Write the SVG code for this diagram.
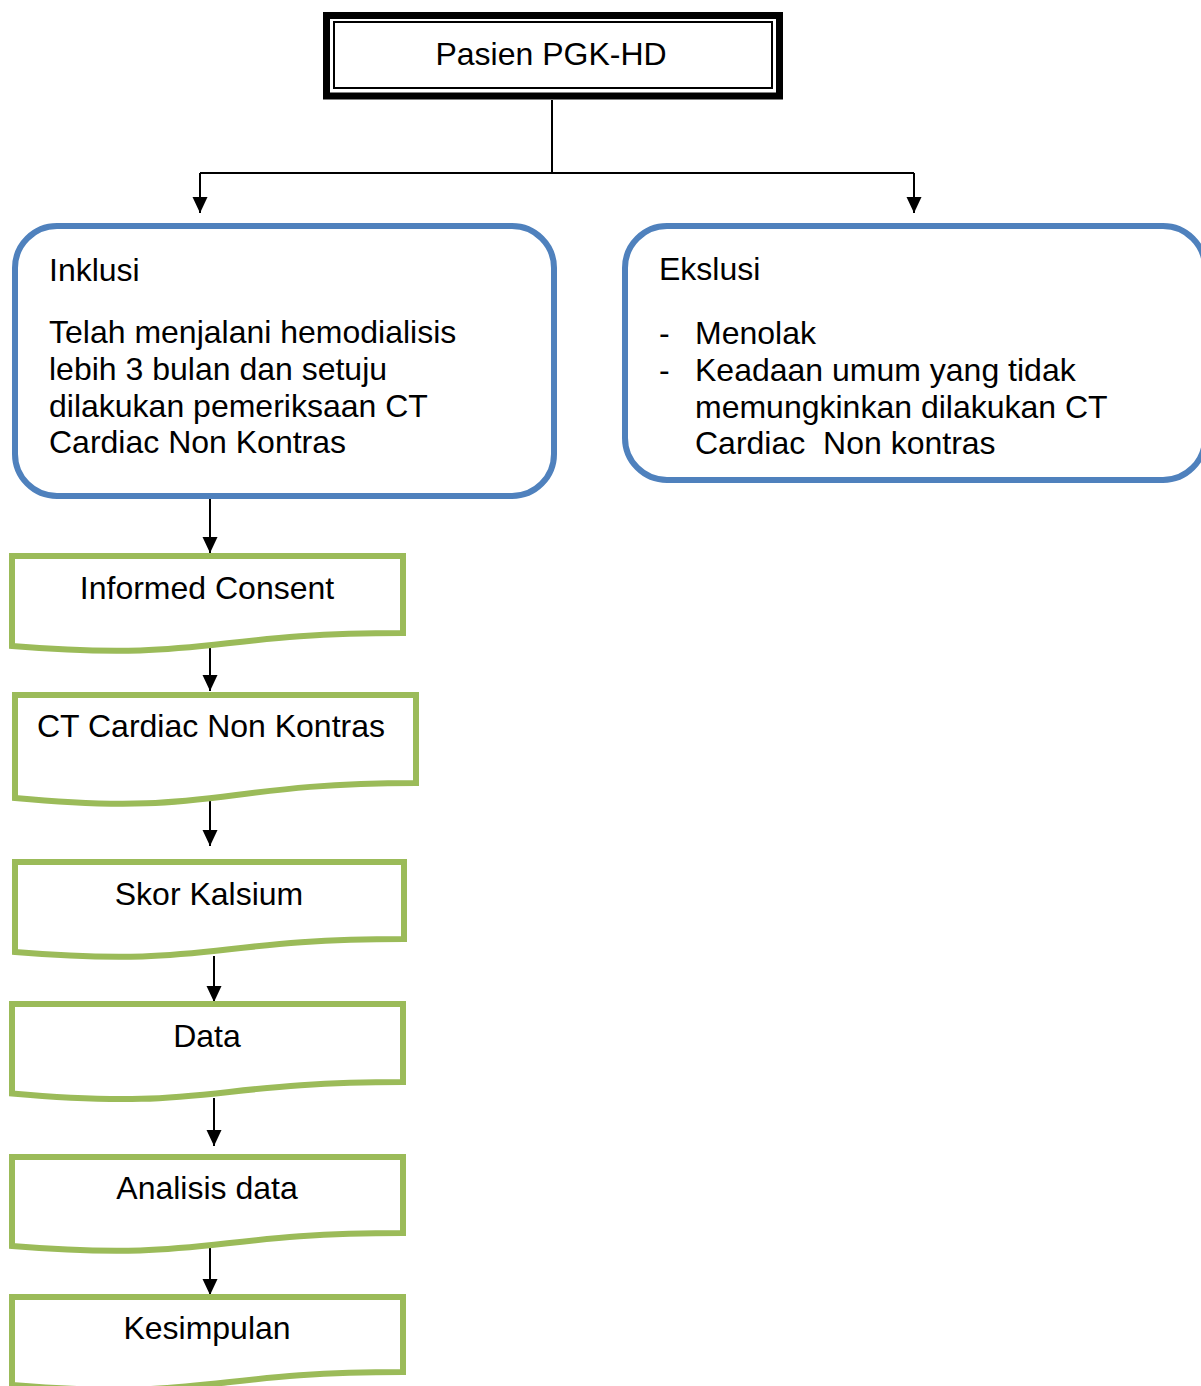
<svg xmlns="http://www.w3.org/2000/svg" width="1201" height="1386" viewBox="0 0 1201 1386">
<style>
text{font-family:"Liberation Sans",Arial,sans-serif;font-size:32px;fill:#000;white-space:pre}
.c{text-anchor:middle}
.conn{stroke:#000;stroke-width:2;fill:none}
.blue{fill:#fff;stroke:#4F81BD;stroke-width:6}
.doc{fill:#fff;stroke:#9BBB59;stroke-width:6}
</style>
<defs>
<marker id="ah" markerUnits="userSpaceOnUse" markerWidth="16" markerHeight="16" refX="16" refY="8" orient="auto">
<path d="M0,0.5 L16,8 L0,15.5 Z" fill="#000"/>
</marker>
</defs>
<rect width="1201" height="1386" fill="#fff"/>
<g id="connectors">
<path class="conn" d="M552,100 V173"/>
<path class="conn" d="M200,173 H914"/>
<path class="conn" d="M200,173 V213" marker-end="url(#ah)"/>
<path class="conn" d="M914,173 V213" marker-end="url(#ah)"/>
<path class="conn" d="M210,496 V553" marker-end="url(#ah)"/>
<path class="conn" d="M210,646 V691" marker-end="url(#ah)"/>
<path class="conn" d="M210,800 V846" marker-end="url(#ah)"/>
<path class="conn" d="M214,956 V1002" marker-end="url(#ah)"/>
<path class="conn" d="M214,1098 V1146" marker-end="url(#ah)"/>
<path class="conn" d="M210,1248 V1295" marker-end="url(#ah)"/>
</g>
<g id="pasien">
<rect x="326.5" y="15.5" width="453" height="80.5" fill="#fff" stroke="#000" stroke-width="7"/>
<rect x="334" y="22" width="438" height="66" fill="none" stroke="#000" stroke-width="2"/>
<text class="c" x="551" y="65">Pasien PGK-HD</text>
</g>
<g id="inklusi">
<rect class="blue" x="15" y="226" width="539" height="270" rx="42"/>
<text x="49" y="281">Inklusi</text>
<text x="49" y="343">Telah menjalani hemodialisis</text>
<text x="49" y="380">lebih 3 bulan dan setuju</text>
<text x="49" y="417">dilakukan pemeriksaan CT</text>
<text x="49" y="453">Cardiac Non Kontras</text>
</g>
<g id="ekslusi">
<rect class="blue" x="625" y="226" width="580" height="254" rx="42"/>
<text x="659" y="280">Ekslusi</text>
<text x="659" y="344">-</text>
<text x="695" y="344">Menolak</text>
<text x="659" y="381">-</text>
<text x="695" y="381">Keadaan umum yang tidak</text>
<text x="695" y="418">memungkinkan dilakukan CT</text>
<text x="695" y="454">Cardiac  Non kontras</text>
</g>
<g id="informed-consent">
<path class="doc" d="M12,556 H403 V633 C207.5,633 207.5,662 12,646 Z"/>
<text class="c" x="207" y="599">Informed Consent</text>
</g>
<g id="ct-cardiac">
<path class="doc" d="M15,695 H416 V783 C215.5,783 215.5,817 15,798 Z"/>
<text class="c" x="211" y="737">CT Cardiac Non Kontras</text>
</g>
<g id="skor-kalsium">
<path class="doc" d="M15,862 H404 V939 C209.5,939 209.5,968 15,952 Z"/>
<text class="c" x="209" y="905">Skor Kalsium</text>
</g>
<g id="data">
<path class="doc" d="M12,1004 H403 V1082 C207.5,1082 207.5,1111 12,1093.5 Z"/>
<text class="c" x="207" y="1047">Data</text>
</g>
<g id="analisis-data">
<path class="doc" d="M12,1157 H403 V1233 C207.5,1233 207.5,1262 12,1246 Z"/>
<text class="c" x="207" y="1199">Analisis data</text>
</g>
<g id="kesimpulan">
<path class="doc" d="M12,1297 H403 V1372 C207.5,1372 207.5,1401 12,1385 Z"/>
<text class="c" x="207" y="1339">Kesimpulan</text>
</g>
</svg>
